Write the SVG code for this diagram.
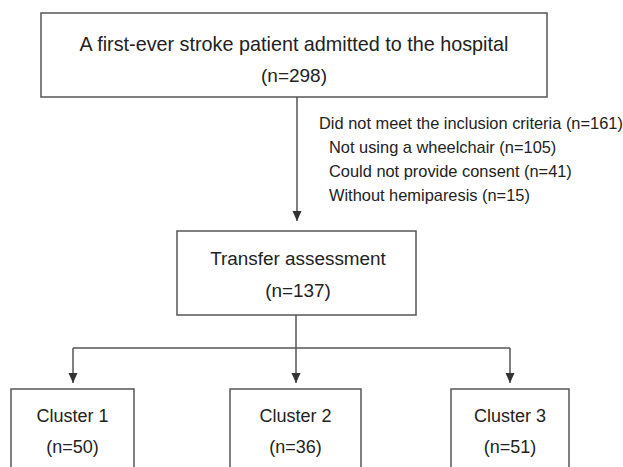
<svg xmlns="http://www.w3.org/2000/svg" width="623" height="467" viewBox="0 0 623 467">
<defs>
<style>
.box{fill:#fff;stroke:#555;stroke-width:1.5}
.t{font-family:"Liberation Sans",Arial,sans-serif;font-size:18px;fill:#222;text-anchor:middle}
.s{font-family:"Liberation Sans",Arial,sans-serif;font-size:16.4px;fill:#222}
.c{fill:none;stroke:#555;stroke-width:1.5}
</style>
<marker id="ah" viewBox="0 0 10 10" refX="10" refY="5" markerWidth="10" markerHeight="10" markerUnits="userSpaceOnUse" orient="auto">
<path d="M0,0.5 L10,5 L0,9.5 Z" fill="#333"/>
</marker>
</defs>
<rect width="623" height="467" fill="#fff"/>
<g id="connectors">
<line class="c" x1="297" y1="97" x2="297" y2="221" marker-end="url(#ah)"/>
<line class="c" x1="296" y1="315" x2="296" y2="383" marker-end="url(#ah)"/>
<line class="c" x1="73" y1="348" x2="510" y2="348"/>
<line class="c" x1="73" y1="348" x2="73" y2="383" marker-end="url(#ah)"/>
<line class="c" x1="510" y1="348" x2="510" y2="383" marker-end="url(#ah)"/>
</g>
<g id="node-admitted">
<rect class="box" x="41" y="13" width="506" height="84"/>
<text class="t" x="294" y="51" style="font-size:19.8px">A first-ever stroke patient admitted to the hospital</text>
<text class="t" x="294" y="82" style="font-size:19px">(n=298)</text>
</g>
<g id="exclusion">
<text class="s" x="319" y="129">Did not meet the inclusion criteria (n=161)</text>
<text class="s" x="329" y="153">Not using a wheelchair (n=105)</text>
<text class="s" x="329" y="177">Could not provide consent (n=41)</text>
<text class="s" x="329" y="201">Without hemiparesis (n=15)</text>
</g>
<g id="node-transfer">
<rect class="box" x="177" y="231" width="239" height="84"/>
<text class="t" x="298" y="265" style="font-size:18.9px">Transfer assessment</text>
<text class="t" x="298" y="297" style="font-size:18.9px">(n=137)</text>
</g>
<g id="node-cluster1">
<rect class="box" x="11" y="389" width="123" height="100"/>
<text class="t" x="72.5" y="422">Cluster 1</text>
<text class="t" x="72.5" y="453">(n=50)</text>
</g>
<g id="node-cluster2">
<rect class="box" x="230" y="389" width="131" height="100"/>
<text class="t" x="295.5" y="422">Cluster 2</text>
<text class="t" x="295.5" y="453">(n=36)</text>
</g>
<g id="node-cluster3">
<rect class="box" x="451" y="389" width="118" height="100"/>
<text class="t" x="510" y="422">Cluster 3</text>
<text class="t" x="510" y="453">(n=51)</text>
</g>
</svg>
